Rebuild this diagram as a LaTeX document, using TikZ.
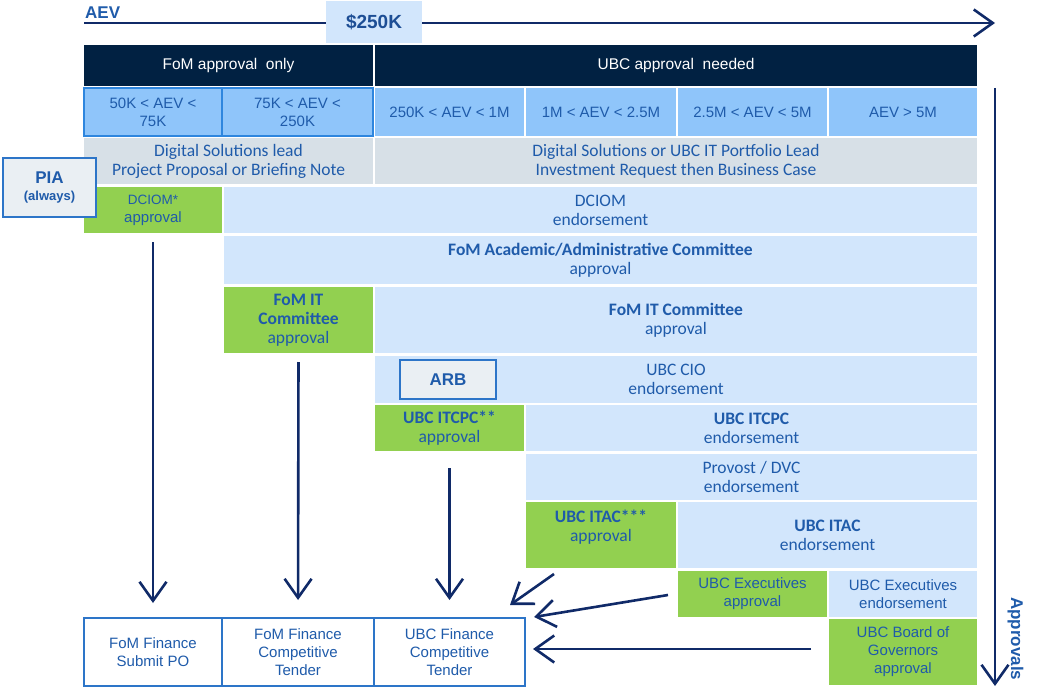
\documentclass[tikz,border=0pt]{standalone}
\usepackage{fontspec}
\setmainfont{Liberation Sans}
\newfontfamily\calibri{Carlito}
\usetikzlibrary{arrows.meta,calc}
\definecolor{navy}{HTML}{012142}
\definecolor{aevc}{HTML}{8FC5FA}
\definecolor{aevbd}{HTML}{2E86DE}
\definecolor{grayc}{HTML}{D7E0E7}
\definecolor{lblue}{HTML}{D2E6FC}
\definecolor{fomgreen}{HTML}{92D050}
\definecolor{txt}{HTML}{1F5BAA}
\definecolor{txtdark}{HTML}{1D4E95}
\definecolor{arrowc}{HTML}{102A68}
\definecolor{boxgr}{HTML}{EAEFF3}
\definecolor{botbd}{HTML}{2D75C8}
\newcommand\arialsz{\fontsize{15}{18}\selectfont}
\newcommand\cell[7]{%
  \node[cellbox,#6,minimum width={(#4-#2)*1pt},minimum height={(#5-#3)*1pt}] (#1) at ({(#2+#4)/2},{(#3+#5)/2}) {#7};}
\tikzset{
  cellbox/.style={inner sep=0pt, outer sep=0pt, align=center, text=txt, font=\arialsz},
  cb/.style={font=\calibri\fontsize{17.5}{19}\selectfont},
  hdr/.style={fill=navy, text=white, font=\fontsize{15.5}{18}\selectfont},
  aev/.style={fill=aevc},
  aevb/.style={fill=aevc, draw=aevbd, line width=2pt},
  graycell/.style={fill=grayc},
  lb/.style={fill=lblue},
  grn/.style={fill=fomgreen},
  bot/.style={fill=white, draw=botbd, line width=1.5pt},
  boxg/.style={fill=boxgr, draw=botbd, line width=1.6pt, font=\bfseries\fontsize{17}{19}\selectfont},
  arr/.style={draw=arrowc, line width=2.6pt, -{Straight Barb[length=19pt,width=27pt]}}
}
\begin{document}
\begin{tikzpicture}[x=1pt,y=-1pt]
\useasboundingbox (0,0) rectangle (1038,687);
% top AEV axis
\coordinate (aevL) at (84,23);
\coordinate (aevR) at (995,23);
\draw[arr] (aevL) -- (aevR);
\node[anchor=base west, inner sep=0pt, text=txt, font=\bfseries\fontsize{17}{19}\selectfont] (aevt) at (85,19) {AEV};
\node[fill=lblue, inner sep=0pt, minimum width=96pt, minimum height=42pt, text=txtdark, font=\bfseries\fontsize{19}{21}\selectfont] (k250) at (374,22) {\$250K};
% header
\cell{hfom}{84}{45}{373}{86}{hdr}{FoM approval\ \ only}
\cell{hubc}{375}{45}{977}{86}{hdr}{UBC approval\ \ needed}
% AEV ranges
\cell{a3}{375}{88}{524}{136}{aev}{250K < AEV < 1M}
\cell{a4}{526}{88}{676}{136}{aev}{1M < AEV < 2.5M}
\cell{a5}{678}{88}{827}{136}{aev}{2.5M < AEV < 5M}
\cell{a6}{829}{88}{977}{136}{aev}{AEV > 5M}
\cell{a1}{84}{88}{222}{136}{aevb}{50K < AEV <\\75K}
\cell{a2}{222}{88}{373}{136}{aevb}{75K < AEV <\\250K}
% lead row
\cell{g1}{84}{138}{373}{184}{graycell,cb}{Digital Solutions lead\\Project Proposal or Briefing Note}
\cell{g2}{375}{138}{977}{184}{graycell,cb}{Digital Solutions or UBC IT Portfolio Lead\\Investment Request then Business Case}
% DCIOM
\cell{dg}{84}{187}{222}{233}{grn}{{\fontsize{13.5}{15}\selectfont DCIOM*}\\approval}
\cell{db}{224}{187}{977}{233}{lb,cb}{DCIOM\\endorsement}
% FoM Academic
\cell{fa}{224}{236}{977}{284}{lb,cb}{\textbf{FoM Academic/Administrative Committee}\\approval}
% FoM IT
\cell{fitg}{224}{287}{373}{353}{grn,cb}{\textbf{FoM IT}\\\textbf{Committee}\\approval}
\cell{fitb}{375}{287}{977}{353}{lb,cb}{\textbf{FoM IT Committee}\\approval}
% UBC CIO
\cell{cio}{375}{356}{977}{403}{lb,cb}{UBC CIO\\endorsement}
\cell{arb}{400}{360}{496}{399}{boxg}{ARB}
% ITCPC
\cell{itg}{375}{405}{524}{451}{grn,cb}{\textbf{UBC ITCPC**}\\approval}
\cell{itb}{526}{405}{977}{451}{lb,cb}{\textbf{UBC ITCPC}\\endorsement}
% Provost
\cell{pv}{526}{454}{977}{500}{lb,cb}{Provost / DVC\\endorsement}
% ITAC
\cell{iag}{526}{502}{676}{568}{grn}{}
\node[cellbox,cb] (iagt) at ($(iag.center)+(0,-8)$) {\textbf{UBC ITAC***}\\approval};
\cell{iab}{678}{502}{977}{568}{lb,cb}{\textbf{UBC ITAC}\\endorsement}
% Executives
\cell{exg}{678}{571}{827}{617}{grn}{UBC Executives\\approval}
\cell{exb}{829}{571}{977}{617}{lb}{UBC Executives\\endorsement}
% Board
\cell{bog}{829}{619}{977}{685}{grn}{UBC Board of\\Governors\\approval}
% bottom finance boxes
\cell{b1}{84}{618}{222}{686}{bot}{FoM Finance\\Submit PO}
\cell{b2}{222}{618}{374}{686}{bot}{FoM Finance\\Competitive\\Tender}
\cell{b3}{374}{618}{525}{686}{bot}{UBC Finance\\Competitive\\Tender}
% PIA
\cell{pia}{3}{158}{96}{217}{boxg}{PIA\\[-2pt]{\fontsize{13}{15}\selectfont (always)}}
% approvals axis
\coordinate (apT) at (995,88);
\coordinate (apB) at (995,686);
\draw[arr] (apT) -- (apB);
\node[rotate=-90, anchor=base west, inner sep=0pt, text=txt, font=\bfseries\fontsize{17}{19}\selectfont] (appr) at (1011,597) {Approvals};
% arrows to finance
\draw[arr, shorten <=9pt, shorten >=15pt] (dg.south) -- (b1.north);
\draw[arr, shorten <=9pt, shorten >=18pt] (fitg.south) -- (b2.north);
\draw[arr, shorten <=17pt, shorten >=18pt] (itg.south) -- (b3.north);
\draw[arr] ($(iag.south west)+(28,6)$) -- ($(b3.north east)+(-15,-13)$);
\draw[arr] ($(exg.west)+(-10,1)$) -- ($(b3.north east)+(9,-1)$);
\draw[arr] ($(bog.west)+(-18,-3)$) -- ($(b3.east)+(8,-3)$);
\end{tikzpicture}
\end{document}
